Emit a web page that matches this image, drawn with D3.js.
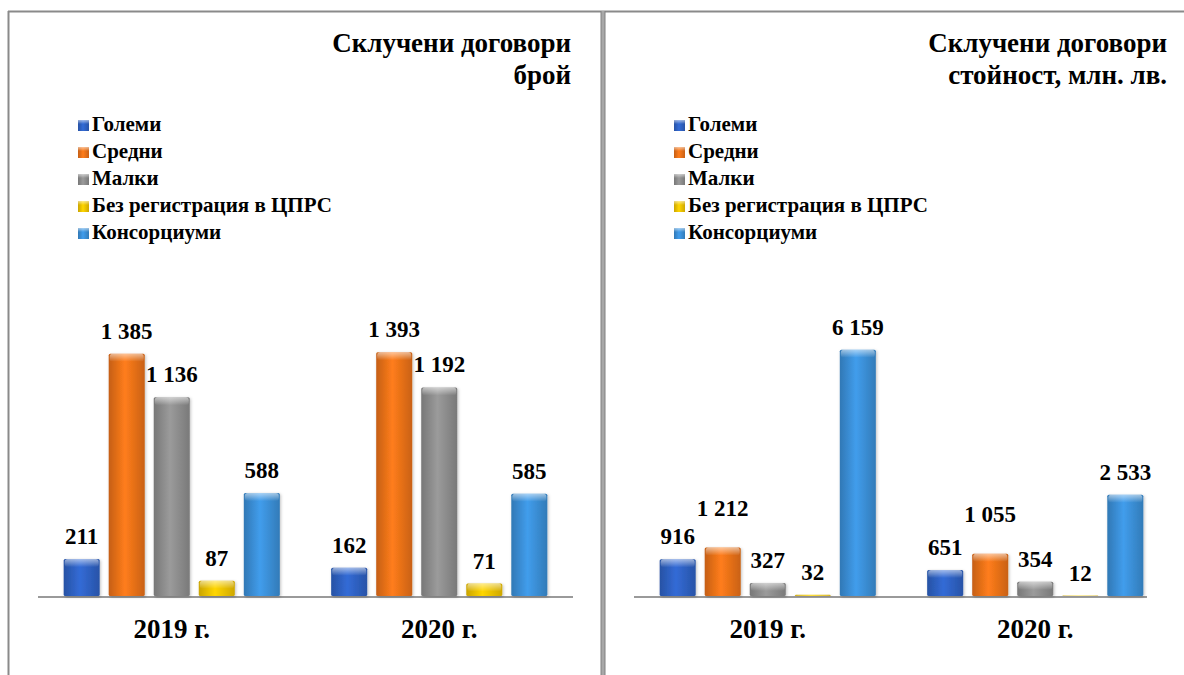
<!DOCTYPE html>
<html>
<head>
<meta charset="utf-8">
<script src="https://cdn.jsdelivr.net/npm/d3@7"></script>
<style>
  body { margin: 0; background: #fff; }
</style>
</head>
<body>
<script>
// categories and series
var years = ["2019 г.", "2020 г."];
var seriesNames = ["Големи", "Средни", "Малки", "Без регистрация в ЦПРС", "Консорциуми"];

// left chart: number of contracts
var count2019 = [211, 1385, 1136, 87, 588];
var count2020 = [162, 1393, 1192, 71, 585];
// right chart: value, mln. BGN
var value2019 = [916, 1212, 327, 32, 6159];
var value2020 = [651, 1055, 354, 12, 2533];

var leftTitle = ["Склучени договори", "брой"];
var rightTitle = ["Склучени договори", "стойност, млн. лв."];

var colors = ["#2f62c4", "#ec7219", "#8e8e8e", "#f2c400", "#3b90d8"];

var WIDTH = 1184, HEIGHT = 675;
var FONT = "'Liberation Serif', 'Times New Roman', Times, serif";
var fmt = d3.formatLocale({decimal: ",", thousands: " ", grouping: [3], currency: ["", ""]}).format(",");

var svg = d3.select("body").append("svg")
    .attr("width", WIDTH)
    .attr("height", HEIGHT)
    .attr("font-family", FONT)
    .attr("font-weight", "bold");

var defs = svg.append("defs");

// glossy horizontal gradient for each series colour
colors.forEach(function(c, i) {
  var g = defs.append("linearGradient").attr("id", "bar" + i)
      .attr("x1", 0).attr("x2", 1).attr("y1", 0).attr("y2", 0);
  g.append("stop").attr("offset", "0%").attr("stop-color", d3.color(c).darker(0.5));
  g.append("stop").attr("offset", "45%").attr("stop-color", d3.color(c).brighter(0.25));
  g.append("stop").attr("offset", "100%").attr("stop-color", d3.color(c).darker(0.45));
});
var cap = defs.append("linearGradient").attr("id", "cap")
    .attr("x1", 0).attr("x2", 0).attr("y1", 0).attr("y2", 1);
cap.append("stop").attr("offset", "0%").attr("stop-color", "#fff").attr("stop-opacity", 0.55);
cap.append("stop").attr("offset", "100%").attr("stop-color", "#fff").attr("stop-opacity", 0);

var shadow = defs.append("filter").attr("id", "shadow")
    .attr("x", "-30%").attr("y", "-10%").attr("width", "160%").attr("height", "130%");
shadow.append("feDropShadow").attr("dx", 1).attr("dy", 1).attr("stdDeviation", 1.5)
    .attr("flood-color", "#000").attr("flood-opacity", 0.25);

// panel frames
svg.append("line").attr("x1", 8.5).attr("x2", 8.5).attr("y1", 11).attr("y2", HEIGHT)
    .attr("stroke", "#8a8a8a").attr("stroke-width", 2);
svg.append("line").attr("x1", 8).attr("x2", WIDTH).attr("y1", 11.5).attr("y2", 11.5)
    .attr("stroke", "#8a8a8a").attr("stroke-width", 2);
svg.append("rect").attr("x", 601).attr("y", 11).attr("width", 4).attr("height", HEIGHT - 11)
    .attr("fill", "#a8a8a8");
svg.append("line").attr("x1", 601).attr("x2", 601).attr("y1", 11).attr("y2", HEIGHT)
    .attr("stroke", "#808080").attr("stroke-width", 1);
svg.append("line").attr("x1", 605).attr("x2", 605).attr("y1", 11).attr("y2", HEIGHT)
    .attr("stroke", "#808080").attr("stroke-width", 1);

function drawPanel(offset, title, vals2019, vals2020, yMax, axisEnd, raised) {
  var g = svg.append("g").attr("transform", "translate(" + offset + ",0)");
  var rows = [vals2019, vals2020];

  var x0 = d3.scaleBand().domain(years).range([38, 573]);
  var x1 = d3.scaleBand().domain(seriesNames).range([0, x0.bandwidth()])
      .paddingInner(0.2).paddingOuter(0.57);
  var y = d3.scaleLinear().domain([0, yMax]).range([596, 316]);

  // title, right aligned
  g.selectAll("text.title").data(title).enter().append("text")
      .attr("class", "title")
      .attr("x", 571)
      .attr("y", function(d, i) { return 52 + i * 32; })
      .attr("text-anchor", "end")
      .style("font-size", "27px")
      .text(function(d) { return d; });

  // legend
  var lg = g.selectAll("g.legend").data(seriesNames).enter().append("g")
      .attr("class", "legend")
      .attr("transform", function(d, i) { return "translate(78," + (120 + i * 27) + ")"; });
  lg.append("rect").attr("width", 11).attr("height", 11)
      .attr("fill", function(d, i) { return "url(#bar" + i + ")"; });
  lg.append("rect").attr("width", 11).attr("height", 4).attr("fill", "url(#cap)");
  lg.append("text").attr("x", 14).attr("y", 11)
      .style("font-size", "21px")
      .text(function(d) { return d; });

  // axis line
  g.append("line").attr("x1", 38).attr("x2", axisEnd).attr("y1", 597).attr("y2", 597)
      .attr("stroke", "#9a9a9a").attr("stroke-width", 2);

  // bars
  var groups = g.selectAll("g.year").data(years).enter().append("g")
      .attr("class", "year")
      .attr("transform", function(d) { return "translate(" + x0(d) + ",0)"; });

  var bars = groups.selectAll("g.bar")
      .data(function(d, yi) {
        return seriesNames.map(function(s, si) { return {s: s, si: si, v: rows[yi][si]}; });
      })
      .enter().append("g").attr("class", "bar");

  bars.append("rect")
      .attr("x", function(d) { return x1(d.s); })
      .attr("y", function(d) { return y(d.v); })
      .attr("width", x1.bandwidth())
      .attr("height", function(d) { return y(0) - y(d.v); })
      .attr("rx", 1.5)
      .attr("fill", function(d) { return "url(#bar" + d.si + ")"; })
      .attr("filter", "url(#shadow)");
  bars.append("rect")
      .attr("x", function(d) { return x1(d.s) + 1; })
      .attr("y", function(d) { return y(d.v); })
      .attr("width", x1.bandwidth() - 2)
      .attr("height", function(d) { return Math.min(8, y(0) - y(d.v)); })
      .attr("rx", 3)
      .attr("fill", "url(#cap)");

  // value labels
  bars.append("text")
      .attr("x", function(d) { return x1(d.s) + x1.bandwidth() / 2; })
      .attr("y", function(d) { return y(d.v) - 15 - (raised.indexOf(d.si) >= 0 ? 17 : 0); })
      .attr("text-anchor", "middle")
      .style("font-size", "23px")
      .text(function(d) { return fmt(d.v); });

  // category labels
  g.selectAll("text.cat").data(years).enter().append("text")
      .attr("class", "cat")
      .attr("x", function(d) { return x0(d) + x0.bandwidth() / 2; })
      .attr("y", 638)
      .attr("text-anchor", "middle")
      .style("font-size", "27px")
      .text(function(d) { return d; });
}

drawPanel(0, leftTitle, count2019, count2020, 1600, 573, []);
drawPanel(596, rightTitle, value2019, value2020, 7000, 551, [1]);
</script>
</body>
</html>
